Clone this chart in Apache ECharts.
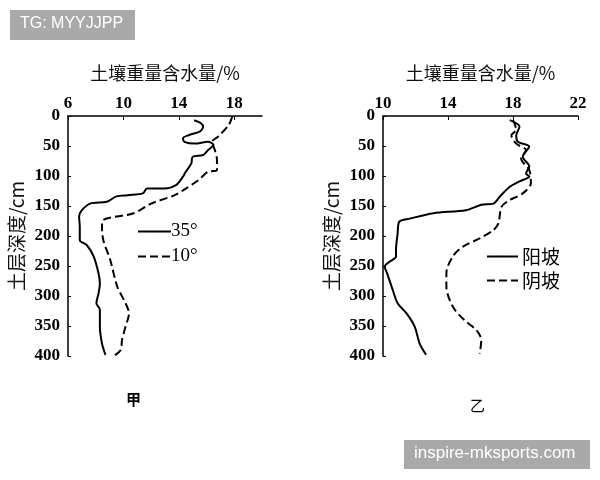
<!DOCTYPE html>
<html>
<head>
<meta charset="utf-8">
<script src="https://cdn.jsdelivr.net/npm/echarts@6/dist/echarts.min.js"></script>
<style>
  html, body { margin: 0; padding: 0; background: #fff; }
  #chart { width: 600px; height: 480px; }
</style>
</head>
<body>
<div id="chart"></div>
<script>
// 甲: depth (cm) and soil moisture (%)
const depthA35 = [7, 12, 18, 26, 32, 37, 43, 46, 43, 48, 57, 65, 68, 79, 93, 101, 115, 121, 121, 129, 132, 134, 143, 146, 157, 168, 184, 207, 215, 234, 262, 279, 296, 312, 323, 351, 379, 398];
const moistA35 = [15.1, 15.6, 15.75, 15.5, 14.7, 14.3, 14.4, 15.15, 16.1, 16.5, 16.1, 15.75, 15.0, 14.9, 14.5, 14.3, 13.8, 12.95, 11.7, 11.4, 10.3, 9.5, 8.8, 7.6, 7.0, 6.8, 6.85, 6.85, 7.35, 7.85, 8.2, 8.3, 8.2, 8.05, 8.3, 8.3, 8.45, 8.7];
const depthA10 = [1, 15, 34, 43, 57, 73, 90, 93, 107, 121, 132, 146, 162, 173, 184, 207, 240, 284, 312, 329, 351, 373, 390, 400];
const moistA10 = [17.85, 17.6, 16.85, 16.4, 16.6, 16.75, 16.75, 16.1, 15.4, 14.5, 13.7, 12.0, 10.75, 8.55, 8.45, 8.55, 9.05, 9.55, 10.15, 10.4, 10.15, 9.9, 9.8, 9.3];

// 乙
const depthSunny = [7, 18, 32, 43, 51, 68, 84, 96, 101, 109, 118, 134, 146, 148, 157, 162, 171, 176, 196, 223, 234, 243, 251, 262, 290, 312, 329, 351, 379, 398];
const moistSunny = [17.8, 18.4, 18.2, 18.3, 19.0, 18.6, 19.0, 18.8, 19.0, 18.4, 17.8, 17.2, 16.8, 16.05, 15.1, 13.1, 11.65, 11.0, 10.9, 10.8, 10.8, 10.4, 10.1, 10.25, 10.6, 10.9, 11.45, 11.95, 12.25, 12.65];
const depthShady = [7, 23, 32, 46, 57, 71, 90, 112, 129, 140, 151, 179, 190, 204, 218, 234, 262, 284, 318, 340, 357, 373, 396];
const moistShady = [18.0, 18.2, 17.9, 18.2, 18.8, 18.5, 19.0, 19.1, 18.6, 17.8, 17.3, 17.1, 16.8, 15.95, 14.9, 14.3, 13.9, 13.9, 14.3, 15.0, 15.75, 16.05, 15.95];

const depthTicks = [0, 400, 50];
const serif = '"Liberation Serif", "DejaVu Serif", serif';
const cjk = '"Noto Sans CJK SC", sans-serif';
const sans = '"Liberation Sans", Arial, sans-serif';

const zip = (xs, ys) => xs.map((x, i) => [x, ys[i]]);

const myChart = echarts.init(document.getElementById("chart"));

const xAxisBase = (idx, min, max) => ({
  type: "value",
  gridIndex: idx,
  position: "top",
  min: min,
  max: max,
  interval: 4,
  name: "土壤重量含水量/%",
  nameLocation: "middle",
  nameGap: 34,
  nameTextStyle: { fontFamily: cjk, fontSize: 18, color: "#111" },
  axisLine: { lineStyle: { color: "#000", width: 1.5 } },
  axisTick: { inside: true, length: 4, lineStyle: { color: "#000" } },
  axisLabel: { fontFamily: serif, fontSize: 17, fontWeight: "bold", color: "#000", margin: 4, showMaxLabel: max === 22 },
  splitLine: { show: false },
});

const yAxisBase = (idx) => ({
  type: "value",
  gridIndex: idx,
  inverse: true,
  min: depthTicks[0],
  max: depthTicks[1],
  interval: depthTicks[2],
  name: "土层深度/cm",
  nameLocation: "middle",
  nameGap: 42,
  nameTextStyle: { fontFamily: cjk, fontSize: 19, color: "#111" },
  axisLine: { show: true, lineStyle: { color: "#000", width: 1.5 } },
  axisTick: { inside: true, length: 3, lineStyle: { color: "#000" } },
  axisLabel: { fontFamily: serif, fontSize: 17, fontWeight: "bold", color: "#000", margin: 8 },
  splitLine: { show: false },
});

const lineSeries = (name, idx, data, type) => ({
  name: name,
  type: "line",
  xAxisIndex: idx,
  yAxisIndex: idx,
  data: data,
  symbol: "none",
  smooth: 0.3,
  lineStyle: { color: "#000", width: 2, type: type },
  itemStyle: { color: "#000" },
});

const option = {
  animation: false,
  grid: [
    { left: 68, top: 116, width: 194, height: 240 },
    { left: 383, top: 116, width: 195, height: 240 },
  ],
  xAxis: [xAxisBase(0, 6, 20), xAxisBase(1, 10, 22)],
  yAxis: [yAxisBase(0), yAxisBase(1)],
  legend: [
    {
      data: ["35°", "10°"],
      orient: "vertical",
      left: 132,
      top: 217,
      itemWidth: 33,
      itemHeight: 2,
      itemGap: 6,
      textStyle: { fontFamily: serif, fontSize: 19, color: "#000", padding: [0, 0, 0, -5] },
    },
    {
      data: ["阳坡", "阴坡"],
      orient: "vertical",
      left: 481,
      top: 242,
      itemWidth: 31,
      itemHeight: 2,
      itemGap: 5,
      textStyle: { fontFamily: cjk, fontSize: 19, color: "#000", padding: [0, 0, 0, -1] },
    },
  ],
  series: [
    lineSeries("35°", 0, zip(moistA35, depthA35), "solid"),
    lineSeries("10°", 0, zip(moistA10, depthA10), "dashed"),
    lineSeries("阳坡", 1, zip(moistSunny, depthSunny), "solid"),
    lineSeries("阴坡", 1, zip(moistShady, depthShady), "dashed"),
  ],
  graphic: [
    { type: "text", left: 126, top: 392, style: { text: "甲", font: 'bold 15px ' + cjk, fill: "#000" } },
    { type: "text", left: 470, top: 398, style: { text: "乙", font: '15px ' + cjk, fill: "#000" } },
    {
      type: "group", left: 10, top: 10,
      children: [
        { type: "rect", shape: { x: 0, y: 0, width: 125, height: 30 }, style: { fill: "#a9a9a9" } },
        { type: "text", x: 10, y: 6, style: { text: "TG: MYYJJPP", font: '16px ' + sans, fill: "#fff" } },
      ],
    },
    {
      type: "group", left: 404, top: 440,
      children: [
        { type: "rect", shape: { x: 0, y: 0, width: 186, height: 29 }, style: { fill: "#a9a9a9" } },
        { type: "text", x: 10, y: 5, style: { text: "inspire-mksports.com", font: '17px ' + sans, fill: "#fff" } },
      ],
    },
  ],
};

myChart.setOption(option);
window.addEventListener("resize", () => {
  myChart.resize();
});
</script>
</body>
</html>
